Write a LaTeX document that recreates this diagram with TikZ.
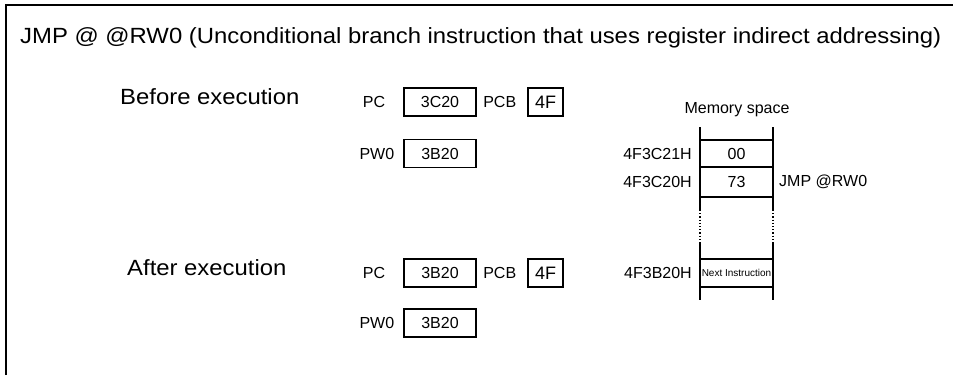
\documentclass[tikz,border=0pt]{standalone}
\usepackage{fontspec}
\setmainfont{Liberation Sans}
\newfontfamily\widefont[FakeStretch=1.085]{Liberation Sans}
\usetikzlibrary{positioning}
\begin{document}
\begin{tikzpicture}[x=1pt, y=-1pt,
    reg/.style={draw, line width=1.2pt, minimum width=72pt, minimum height=28pt, inner sep=0pt, font=\fontsize{16}{16}\selectfont},
    bank/.style={draw, line width=1.2pt, minimum width=35pt, minimum height=28pt, inner sep=0pt, font=\fontsize{18}{18}\selectfont},
    lbl/.style={inner sep=0pt, font=\fontsize{16}{16}\selectfont},
    big/.style={inner sep=0pt, font=\widefont\fontsize{22}{22}\selectfont}]
    \useasboundingbox (0, 0) rectangle (953, 375);

    % frame
    \draw[line width=2pt] (5.5, 375) -- (5.5, 5) -- (953, 5);

    % title
    \node[big, anchor=base west] (title) at (20, 43) {JMP @ @RW0 (Unconditional branch instruction that uses register indirect addressing)};

    % before execution
    \node[big, anchor=base west] (before) at (120, 104) {Before execution};
    \node[reg] (pc1) at (440, 102) {3C20};
    \node[lbl, left=18pt of pc1] (pcname1) {PC};
    \node[bank] (pcb1) at (545.5, 102) {4F};
    \node[lbl, left=11pt of pcb1] (pcbname1) {PCB};
    \node[reg] (rw1) at (440, 153.5) {3B20};
    \node[lbl, left=9pt of rw1] (rwname1) {PW0};

    % after execution
    \node[big, anchor=base west] (after) at (127, 275) {After execution};
    \node[reg] (pc2) at (440, 273) {3B20};
    \node[lbl, left=18pt of pc2] (pcname2) {PC};
    \node[bank] (pcb2) at (545.5, 273) {4F};
    \node[lbl, left=11pt of pcb2] (pcbname2) {PCB};
    \node[reg] (rw2) at (440, 323) {3B20};
    \node[lbl, left=9pt of rw2] (rwname2) {PW0};

    % memory space
    \node[lbl] (memtitle) at (737, 110) {Memory space};
    \draw[line width=1.2pt] (700, 127) -- (700, 210) (773, 127) -- (773, 210);
    \draw[line width=1.2pt, dotted] (700, 210) -- (700, 242) (773, 210) -- (773, 242);
    \draw[line width=1.2pt] (700, 242) -- (700, 300) (773, 242) -- (773, 300);
    \foreach \y in {140, 167, 197, 259, 287}
        \draw[line width=1.2pt] (700, \y) -- (773, \y);

    \node[lbl] (cell21) at (736.5, 153.5) {00};
    \node[lbl] (cell20) at (736.5, 182) {73};
    \node[inner sep=0pt, font=\fontsize{10}{10}\selectfont] (cellnext) at (736.5, 273) {Next Instruction};
    \node[lbl, anchor=east] (addr21) at (692, 153.5) {4F3C21H};
    \node[lbl, anchor=east] (addr20) at (692, 182) {4F3C20H};
    \node[lbl, anchor=east] (addrnext) at (692, 273) {4F3B20H};
    \node[lbl, anchor=west] (jmp) at (779, 182) {JMP @RW0};
\end{tikzpicture}
\end{document}
